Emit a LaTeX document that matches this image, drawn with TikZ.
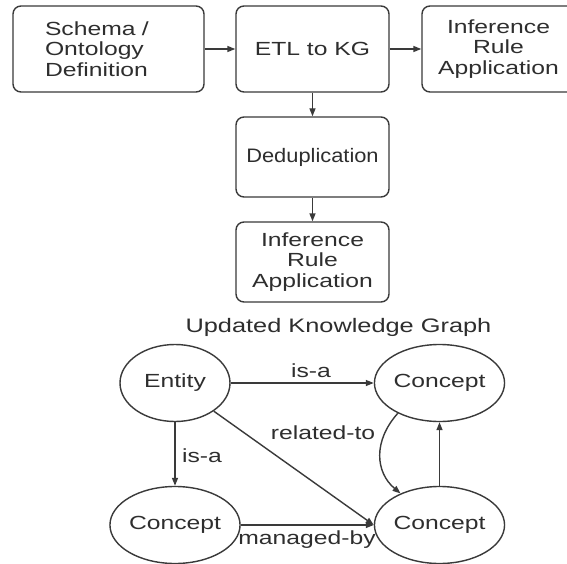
\documentclass[tikz,border=0pt]{standalone}
\usepackage{fontspec}
\setmainfont{Liberation Sans}[FakeStretch=1.3]
\newfontfamily\dedupfont{Liberation Sans}[FakeStretch=1.12]
\usetikzlibrary{shapes.geometric,arrows.meta}
\definecolor{linec}{HTML}{3A3A3A}
\definecolor{textc}{HTML}{2E2E2E}
\tikzset{
  box/.style={draw=linec, line width=1.4pt, rounded corners=8pt, minimum width=153pt,
    minimum height=86pt, inner sep=0pt, align=center, text=textc,
    font=\fontsize{19}{20.5}\selectfont},
  ell/.style={draw=linec, line width=1.4pt, ellipse, minimum width=110pt, minimum height=77pt,
    inner sep=0pt, text=textc, font=\fontsize{19}{20.5}\selectfont},
  lbl/.style={inner sep=0pt, text=textc, font=\fontsize{19}{20.5}\selectfont},
  arr/.style={draw=linec, line width=1.4pt, -{Triangle[length=8pt,width=6pt]}},
}
\begin{document}
\begin{tikzpicture}[x=1pt,y=-1pt]
\useasboundingbox (0,0) rectangle (567,564);
\fill[white] (0,0) rectangle (567,564);
\clip (0,0) rectangle (567,564);
% pipeline
\node[box, minimum width=191pt, text width=127pt, inner xsep=32pt, align=left] (schema) at (108.5,49) {Schema /\\Ontology\\Definition};
\node[box] (etl) at (312.5,49) {ETL to KG};
\node[box] (infR) at (498.5,49) {Inference\\Rule\\Application};
\node[box, minimum height=80pt, font=\dedupfont\fontsize{19.5}{21}\selectfont] (dedup) at (312.5,157) {Deduplication};
\node[box, minimum height=80pt] (infB) at (312.5,262) {Inference\\Rule\\Application};
\draw[arr] (schema) -- (etl);
\draw[arr] (etl) -- (infR);
\draw[arr] (etl) -- (dedup);
\draw[arr] (dedup) -- (infB);
% graph
\node[lbl, font=\fontsize{19.5}{21}\selectfont] (title) at (338.5,327) {Updated Knowledge Graph};
\node[ell] (ent) at (175,383) {Entity};
\node[ell] (c1) at (439.5,383) {Concept};
\node[ell] (c2) at (175,525) {Concept};
\node[ell] (c3) at (439.5,525) {Concept};
\draw[arr] (ent) -- (c1);
\draw[arr] (ent) -- (c2);
\draw[arr] (ent.-36) -- (c3.west);
\draw[arr] (c2) -- (c3.west);
\draw[arr] (c1.216) .. controls +(-25,28) and +(-25,-21) .. (c3.141);
\draw[arr] (c3.north) -- (c1.south);
\node[lbl] (l1) at (311,371) {is-a};
\node[lbl] (l2) at (202,456) {is-a};
\node[lbl] (l3) at (323,433) {related-to};
\node[lbl] (l4) at (307,540) {managed-by};
\end{tikzpicture}
\end{document}
